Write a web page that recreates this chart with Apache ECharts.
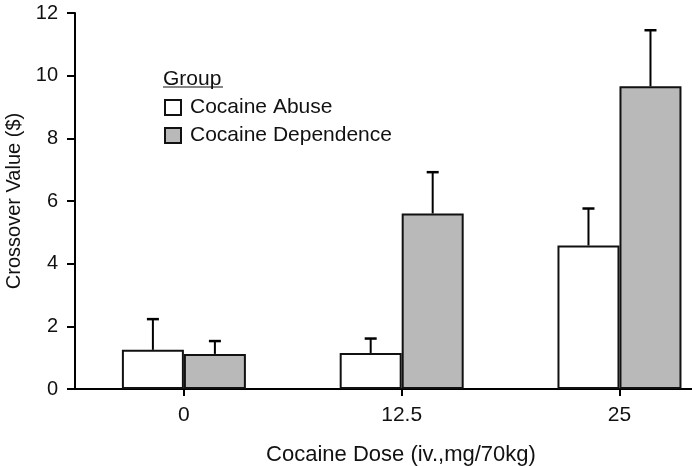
<!DOCTYPE html>
<html>
<head>
<meta charset="utf-8">
<script src="https://cdn.jsdelivr.net/npm/echarts@6/dist/echarts.min.js"></script>
<style>
  html, body { margin: 0; padding: 0; background: #fff; }
  #chart { width: 692px; height: 466px; }
</style>
</head>
<body>
<div id="chart"></div>
<script>
// doses on the x axis (drawn at positions 0, 1, 2)
const doses = ['0', '12.5', '25'];
const dosePos = [0, 1, 2];
// mean crossover values and upper error (mean + SEM)
const abuseMean = [1.25, 1.15, 4.58];
const abuseErr = [2.23, 1.61, 5.76];
const depMean = [1.12, 5.6, 9.66];
const depErr = [1.53, 6.92, 11.45];
const yTicks = [0, 2, 4, 6, 8, 10, 12];

const FONT = '"Liberation Sans", Arial, Helvetica, sans-serif';
const BAR_W = 62;

const chart = echarts.init(document.getElementById('chart'));

// upward-only error bar with a small cap, shifted onto its bar
function errorRenderer(offset) {
  return function (params, api) {
    const base = api.coord([api.value(0), api.value(1)]);
    const top = api.coord([api.value(0), api.value(2)]);
    const x = base[0] + offset;
    return {
      type: 'group',
      children: [
        { type: 'line', shape: { x1: x, y1: base[1], x2: x, y2: top[1] },
          style: { stroke: '#000', lineWidth: 2 } },
        { type: 'line', shape: { x1: x - 6, y1: top[1], x2: x + 6, y2: top[1] },
          style: { stroke: '#000', lineWidth: 2.5 } }
      ]
    };
  };
}

chart.setOption({
  animation: false,
  textStyle: { fontFamily: FONT },
  grid: { left: 75, right: 0, top: 13, bottom: 77, outerBoundsMode: 'none', containLabel: false },
  legend: {
    data: ['Cocaine Abuse', 'Cocaine Dependence'],
    orient: 'vertical',
    left: 164,
    top: 97,
    padding: 0,
    itemWidth: 16,
    itemHeight: 15,
    itemGap: 7,
    icon: 'rect',
    selectedMode: false,
    textStyle: { fontFamily: FONT, fontSize: 21, color: '#111', padding: [0, 0, 0, 4] }
  },
  graphic: [
    { type: 'text', x: 163, y: 79,
      style: { text: 'Group', font: '21px ' + FONT, fill: '#111', verticalAlign: 'middle' } },
    { type: 'line', shape: { x1: 163, y1: 87, x2: 223, y2: 87 },
      style: { stroke: '#111', lineWidth: 1.2 } }
  ],
  xAxis: {
    type: 'value',
    min: -0.5,
    max: 2.333,
    name: 'Cocaine Dose (iv.,mg/70kg)',
    nameLocation: 'middle',
    nameGap: 55,
    nameTextStyle: { fontSize: 22, color: '#111', padding: [0, 0, 0, 35] },
    axisLine: { onZero: false, lineStyle: { color: '#000', width: 2 } },
    axisTick: { customValues: dosePos, length: 7, lineStyle: { color: '#000', width: 2 } },
    axisLabel: { customValues: dosePos, fontSize: 21, color: '#111', margin: 16,
      formatter: v => doses[v] },
    splitLine: { show: false }
  },
  yAxis: {
    type: 'value',
    min: 0,
    max: 12,
    interval: 2,
    name: 'Crossover Value ($)',
    nameLocation: 'middle',
    nameGap: 45,
    nameTextStyle: { fontSize: 20, color: '#111' },
    axisLine: { show: true, onZero: false, lineStyle: { color: '#000', width: 2 } },
    axisTick: { show: true, length: 8, lineStyle: { color: '#000', width: 2 } },
    axisLabel: { fontSize: 20, color: '#111', margin: 17,
      formatter: v => yTicks.includes(v) ? String(v) : '' },
    splitLine: { show: false }
  },
  series: [
    {
      name: 'Cocaine Abuse',
      type: 'bar',
      data: abuseMean.map((v, i) => [dosePos[i], v]),
      barWidth: BAR_W,
      barGap: '0%',
      itemStyle: { color: '#ffffff', borderColor: '#111', borderWidth: 2 }
    },
    {
      name: 'Cocaine Dependence',
      type: 'bar',
      data: depMean.map((v, i) => [dosePos[i], v]),
      barWidth: BAR_W,
      barGap: '0%',
      itemStyle: { color: '#b9b9b9', borderColor: '#111', borderWidth: 2 }
    },
    {
      type: 'custom',
      renderItem: errorRenderer(-BAR_W / 2),
      data: abuseMean.map((v, i) => [dosePos[i], v, abuseErr[i]]),
      z: 1
    },
    {
      type: 'custom',
      renderItem: errorRenderer(BAR_W / 2),
      data: depMean.map((v, i) => [dosePos[i], v, depErr[i]]),
      z: 1
    }
  ]
});
</script>
</body>
</html>
